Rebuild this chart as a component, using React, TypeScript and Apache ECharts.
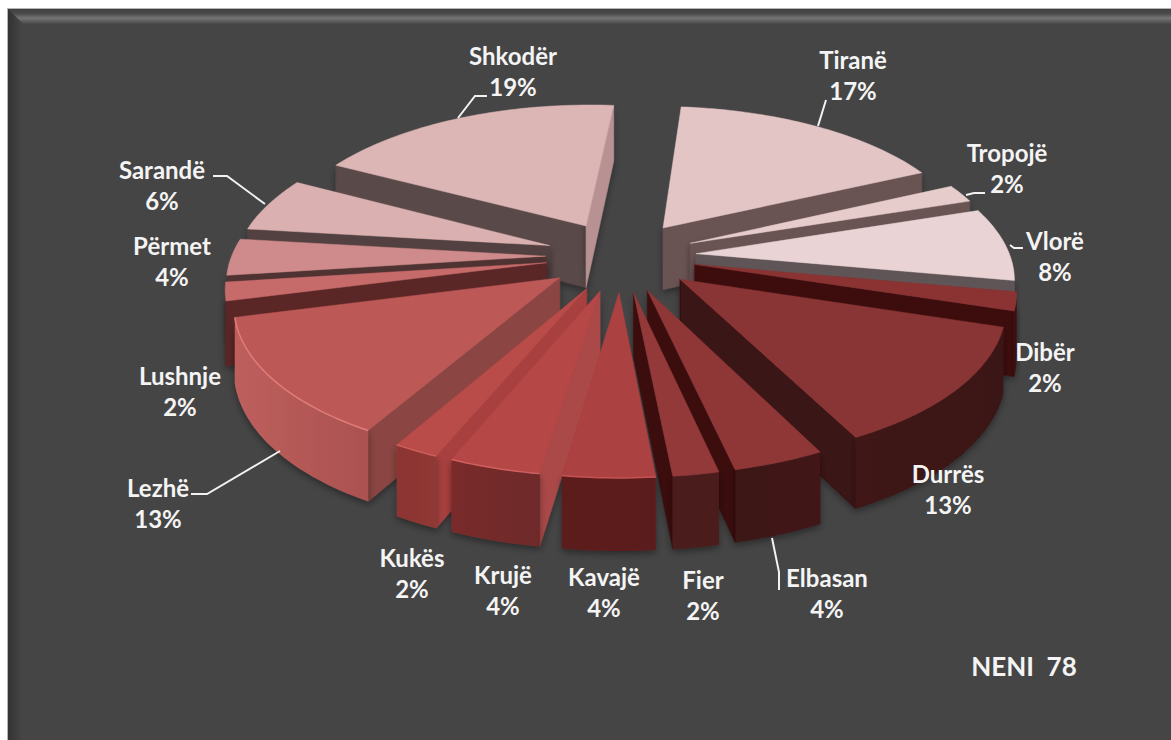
import React, { useEffect, useRef } from "react";
import * as echarts from "echarts";

const names = ["Tiranë","Tropojë","Vlorë","Dibër","Durrës","Elbasan","Fier","Kavajë","Krujë","Kukës","Lezhë","Lushnje","Përmet","Sarandë","Shkodër"];
const values = [17,2,8,2,13,4,2,4,4,2,13,2,4,6,19];
const topColors = ["#e3c5c5","#e7cccc","#e9d3d5","#8b3333","#8a3535","#8f3637","#933939","#ab4141","#b54746","#b94b49","#bc5957","#c76b6a","#cf8b8b","#dbb0b0","#dcb5b5"];
const startFaces = ["#6b5353","#6b5353","#5f5557","#3e0f0f","#3a1212","#3a1010","#3a1010","#5a1e1e","#ab4a4a","#a84040","#8b4543","#5a2626","#4f3232","#534040","#5a4848"];
const endFaces = ["#6b5353","#6b5353","#5f5557","#3e0f0f","#3a1212","#3a1010","#3a1010","#5a1e1e","#8a3430","#8a3430","#8b4543","#5a2626","#4f3232","#534040","#b89292"];
const wallLeft = ["#6b5353","#6b5353","#5f5557","#3e0f0f","#3f1414","#3c1212","#4c1a1a","#5c1f1f","#7a2c2c","#8c3430","#bd5f5d","#5a2626","#4f3232","#534040","#b89292"];
const wallRight = ["#6b5353","#6b5353","#5f5557","#3e0f0f","#3b1212","#421515","#4c1a1a","#5a1e1e","#6e2929","#8f3835","#ab5250","#5a2626","#4f3232","#534040","#b89292"];
const rimColors = ["","","","","","","","#c45252","#d06060","#cf5f5a","#e27c7a","","","",""];
const labelCenters = [[853,75],[1007,168],[1055,256],[1045,367],[948,489],[827,593],[703,595],[604,592],[503,590],[412,573],[158,503],[180,391],[172,261],[162,185],[513,71]];
const leaders: Record<string, number[][]> = {
  "Shkodër": [[458,118],[475,96],[487,96]],
  "Tiranë": [[818,126],[826,100]],
  "Tropojë": [[966,195],[974,193],[985,193]],
  "Vlorë": [[1010,245],[1014,248],[1023,248]],
  "Sarandë": [[213,176],[227,176],[265,204]],
  "Lezhë": [[191,494],[207,494],[280,451]],
  "Elbasan": [[772,538],[779,572],[779,590]],
};
const pieLayout = { cx: 621, cy: 256, a: 314, b: 146.7, k: 0.1455, explode: 0.24, depth: 63, startDeg: 5 };
const total = values.reduce((p, c) => p + c, 0);

function project(u: number, v: number) {
  const s = 1 / (1 - pieLayout.k * v);
  return { x: pieLayout.cx + pieLayout.a * u * s, y: pieLayout.cy + pieLayout.b * v * s, h: pieLayout.depth * Math.pow(s, 0.75) };
}

function renderSlice(params: any, api: any) {
  const i = params.dataIndex;
  const value = api.value(0);
  let before = 0;
  for (let j = 0; j < i; j++) before += values[j];
  const rad = Math.PI / 180;
  const t0 = (pieLayout.startDeg + (before / total) * 360) * rad;
  const t1 = t0 + (value / total) * 2 * Math.PI;
  const mid = (t0 + t1) / 2;
  const ex = pieLayout.explode * Math.sin(mid);
  const ey = -pieLayout.explode * Math.cos(mid);
  const apex = project(ex, ey);
  const n = Math.max(6, Math.ceil(value * 3));
  const arc: any[] = [];
  for (let j = 0; j <= n; j++) {
    const t = t0 + ((t1 - t0) * j) / n;
    arc.push(project(ex + Math.sin(t), ey - Math.cos(t)));
  }
  const base = Math.round((Math.cos(Math.PI - mid) + 2) * 1000);
  const children: any[] = [];
  const shadow = { shadowBlur: 7, shadowColor: "rgba(0,0,0,0.4)", shadowOffsetY: 3 };
  const wall = (a: any, b: any, fill: any, z: number, extra: any = {}) => ({
    type: "polygon",
    z2: base + z,
    shape: { points: [[a.x, a.y], [b.x, b.y], [b.x, b.y + b.h], [a.x, a.y + a.h]] },
    style: { fill, stroke: fill, lineWidth: 0.5, ...extra },
  });
  const first = arc[0];
  const last = arc[n];
  if (first.x < apex.x) children.push(wall(apex, first, startFaces[i], 1, shadow));
  if (apex.x < last.x) children.push(wall(last, apex, endFaces[i], 1, shadow));
  const front: number[] = [];
  for (let j = 0; j < n; j++) if (arc[j + 1].x < arc[j].x) front.push(j);
  if (front.length) {
    const pts: number[][] = [];
    for (let j = front[0]; j <= front[front.length - 1] + 1; j++) pts.push([arc[j].x, arc[j].y]);
    for (let j = front[front.length - 1] + 1; j >= front[0]; j--) pts.push([arc[j].x, arc[j].y + arc[j].h]);
    children.push({
      type: "polygon",
      z2: base + 2,
      shape: { points: pts },
      style: {
        fill: new echarts.graphic.LinearGradient(0, 0, 1, 0, [
          { offset: 0, color: wallLeft[i] },
          { offset: 1, color: wallRight[i] },
        ]),
        ...shadow,
      },
    });
  }
  children.push({
    type: "polygon",
    z2: base + 3,
    shape: { points: [[apex.x, apex.y], ...arc.map((p) => [p.x, p.y])] },
    style: { fill: topColors[i], stroke: topColors[i], lineWidth: 0.5 },
  });
  if (rimColors[i]) {
    children.push({
      type: "polyline",
      z2: base + 4,
      shape: { points: arc.map((p) => [p.x, p.y]) },
      style: { stroke: rimColors[i], lineWidth: 1.5, fill: "none" },
    });
  }
  const line = leaders[names[i]];
  if (line) {
    children.push({
      type: "polyline",
      z2: 9000,
      shape: { points: line },
      style: { stroke: "#f2f2f2", lineWidth: 2, fill: "none" },
    });
  }
  const c = labelCenters[i];
  children.push({
    type: "text",
    z2: 9001,
    style: {
      x: c[0],
      y: c[1],
      text: `${names[i]}\n${value}%`,
      fill: "#f4f4f4",
      font: "bold 24px Lato",
      lineHeight: 31,
      align: "center",
      verticalAlign: "middle",
    },
  });
  return { type: "group", children };
}

export default function App() {
  const ref = useRef<HTMLDivElement>(null);
  useEffect(() => {
    document.body.style.margin = "0";
    const chart = echarts.init(ref.current!, undefined, { renderer: "svg" });
    chart.setOption({
      animation: false,
      backgroundColor: "#ffffff",
      graphic: [
        { type: "rect", z: -10, shape: { x: 7, y: 8, width: 1164, height: 732 }, style: { fill: "#b5b5b5" } },
        { type: "rect", z: -9, shape: { x: 8, y: 9, width: 1163, height: 731 }, style: { fill: "#454545" } },
        { type: "polygon", z: -8, shape: { points: [[8, 9], [1171, 9], [1171, 24], [23, 24]] }, style: { fill: new echarts.graphic.LinearGradient(0, 0, 0, 1, [{ offset: 0, color: "#404040" }, { offset: 0.3, color: "#4a4a4a" }, { offset: 0.6, color: "#757575" }, { offset: 1, color: "#484848" }]) } },
        { type: "polygon", z: -8, shape: { points: [[8, 9], [22, 23], [22, 740], [8, 740]] }, style: { fill: new echarts.graphic.LinearGradient(0, 0, 1, 0, [{ offset: 0, color: "#333333" }, { offset: 1, color: "#454545" }]) } },
        { type: "text", z: 10, style: { x: 1024, y: 666, text: "NENI  78", fill: "#f4f4f4", font: "bold 26px Lato", align: "center", verticalAlign: "middle" } },
      ],
      series: [{
        type: "custom",
        coordinateSystem: "none",
        renderItem: renderSlice,
        clip: false,
        data: names.map((name, i) => ({ name, value: [values[i]] })),
      }],
    });
    return () => chart.dispose();
  }, []);
  return <div ref={ref} style={{ width: 1171, height: 740 }} />;
}
